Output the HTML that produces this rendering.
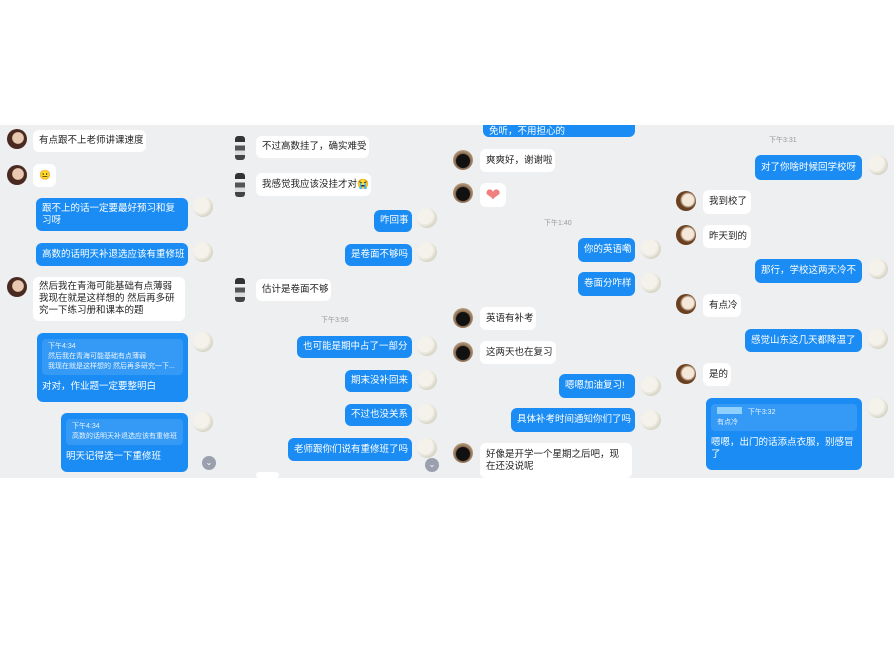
<!DOCTYPE html>
<html><head><meta charset="utf-8"><style>
body{margin:0;width:894px;height:670px;background:#fff;position:relative;overflow:hidden;font-family:"Liberation Sans","Noto Sans CJK SC",sans-serif;}
.band{position:absolute;left:0;top:125px;width:894px;height:353px;background:#eeeff1;}
.b{position:absolute;border-radius:6px;font-size:9.5px;line-height:12px;padding:0 6px;box-sizing:border-box;display:flex;align-items:center;white-space:nowrap;overflow:hidden}
.w{background:#fff;color:#222}
.u{background:#1a8cf4;color:#fff}
.av{position:absolute;width:20px;height:20px;border-radius:50%}
.f{background:radial-gradient(circle at 55% 45%,#e8c8b0 0 35%,#4a2a20 40%);}
.d{background:radial-gradient(circle at 50% 55%,#111 0 45%,#8a6a50 50%,#c8b090 80%);}
.c{background:radial-gradient(circle at 60% 45%,#f5e8d8 0 35%,#6a4020 50%);}
.me{background:radial-gradient(circle at 40% 40%,#f4f2ea 0 45%,#d6d4c4 70%,#eeeff1 90%);}
.fig{position:absolute;width:10px;height:24px;background:linear-gradient(#333 0 25%,#eee 25% 40%,#555 40% 60%,#ddd 60% 80%,#444 80%);border-radius:3px}
.ts{position:absolute;font-size:7px;color:#999}
.q{background:rgba(255,255,255,.12);border-radius:4px;font-size:7px;line-height:10px;padding:3px 6px;color:#e8f3ff;white-space:nowrap}
.chev{position:absolute;width:14px;height:14px;border-radius:50%;background:#9aa0ae;color:#fff;font-size:8px;text-align:center;line-height:14px}
</style></head><body>
<div class="band"></div>
<!-- col1 -->
<div class="av f" style="left:7px;top:129px"></div>
<div class="b w" style="left:33px;top:130px;width:113px;height:22px">有点跟不上老师讲课速度</div>
<div class="av f" style="left:7px;top:165px"></div>
<div class="b w" style="left:33px;top:164px;width:23px;height:23px">😐</div>
<div class="b u" style="left:36px;top:198px;width:152px;height:33px;white-space:normal">跟不上的话一定要最好预习和复习呀</div>
<div class="av me" style="left:193px;top:197px"></div>
<div class="b u" style="left:36px;top:243px;width:152px;height:23px">高数的话明天补退选应该有重修班</div>
<div class="av me" style="left:193px;top:242px"></div>
<div class="av f" style="left:7px;top:277px"></div>
<div class="b w" style="left:33px;top:277px;width:152px;height:44px;white-space:normal">然后我在青海可能基础有点薄弱我现在就是这样想的 然后再多研究一下练习册和课本的题</div>
<div class="b u" style="left:37px;top:333px;width:151px;height:69px;display:block;padding:6px 5px">
<div class="q">下午4:34<br>然后我在青海可能基础有点薄弱<br>我现在就是这样想的 然后再多研究一下...</div>
<div style="margin-top:6px">对对，作业题一定要整明白</div></div>
<div class="av me" style="left:193px;top:332px"></div>
<div class="b u" style="left:61px;top:413px;width:127px;height:59px;display:block;padding:6px 5px">
<div class="q">下午4:34<br>高数的话明天补退选应该有重修班</div>
<div style="margin-top:6px">明天记得选一下重修班</div></div>
<div class="av me" style="left:193px;top:412px"></div>
<div class="chev" style="left:202px;top:456px">⌄</div>
<!-- col2 -->
<div class="fig" style="left:235px;top:136px"></div>
<div class="b w" style="left:256px;top:136px;width:113px;height:22px">不过高数挂了，确实难受</div>
<div class="fig" style="left:235px;top:173px"></div>
<div class="b w" style="left:256px;top:173px;width:115px;height:23px">我感觉我应该没挂才对😭</div>
<div class="b u" style="left:374px;top:210px;width:38px;height:22px">咋回事</div>
<div class="av me" style="left:417px;top:208px"></div>
<div class="b u" style="left:345px;top:244px;width:67px;height:22px">是卷面不够吗</div>
<div class="av me" style="left:417px;top:242px"></div>
<div class="fig" style="left:235px;top:278px"></div>
<div class="b w" style="left:256px;top:279px;width:75px;height:22px">估计是卷面不够</div>
<div class="ts" style="left:321px;top:315px">下午3:56</div>
<div class="b u" style="left:297px;top:336px;width:115px;height:22px">也可能是期中占了一部分</div>
<div class="av me" style="left:417px;top:336px"></div>
<div class="b u" style="left:345px;top:370px;width:67px;height:22px">期末没补回来</div>
<div class="av me" style="left:417px;top:370px"></div>
<div class="b u" style="left:345px;top:404px;width:67px;height:22px">不过也没关系</div>
<div class="av me" style="left:417px;top:404px"></div>
<div class="b u" style="left:288px;top:438px;width:124px;height:23px">老师跟你们说有重修班了吗</div>
<div class="av me" style="left:417px;top:438px"></div>
<div class="chev" style="left:425px;top:458px">⌄</div>
<div class="b w" style="left:256px;top:472px;width:23px;height:6px"></div>
<!-- col3 -->
<div class="b u" style="left:483px;top:125px;width:152px;height:12px;border-radius:0 0 6px 6px;align-items:flex-end;line-height:10px">免听，不用担心的</div>
<div class="av d" style="left:453px;top:150px"></div>
<div class="b w" style="left:480px;top:149px;width:75px;height:23px">爽爽好，谢谢啦</div>
<div class="av d" style="left:453px;top:183px"></div>
<div class="b w" style="left:480px;top:183px;width:26px;height:24px;justify-content:center;color:#f08080;font-size:18px">❤</div>
<div class="ts" style="left:544px;top:218px">下午1:40</div>
<div class="b u" style="left:578px;top:238px;width:57px;height:24px">你的英语嘞</div>
<div class="av me" style="left:641px;top:239px"></div>
<div class="b u" style="left:578px;top:272px;width:57px;height:24px">卷面分咋样</div>
<div class="av me" style="left:641px;top:273px"></div>
<div class="av d" style="left:453px;top:308px"></div>
<div class="b w" style="left:480px;top:307px;width:56px;height:23px">英语有补考</div>
<div class="av d" style="left:453px;top:342px"></div>
<div class="b w" style="left:480px;top:341px;width:76px;height:23px">这两天也在复习</div>
<div class="b u" style="left:559px;top:374px;width:76px;height:24px">嗯嗯加油复习!</div>
<div class="av me" style="left:641px;top:376px"></div>
<div class="b u" style="left:511px;top:408px;width:124px;height:24px">具体补考时间通知你们了吗</div>
<div class="av me" style="left:641px;top:410px"></div>
<div class="av d" style="left:453px;top:443px"></div>
<div class="b w" style="left:480px;top:443px;width:152px;height:35px;white-space:normal">好像是开学一个星期之后吧，现在还没说呢</div>
<!-- col4 -->
<div class="ts" style="left:769px;top:135px">下午3:31</div>
<div class="b u" style="left:755px;top:155px;width:107px;height:25px">对了你啥时候回学校呀</div>
<div class="av me" style="left:868px;top:155px"></div>
<div class="av c" style="left:676px;top:191px"></div>
<div class="b w" style="left:703px;top:190px;width:48px;height:24px">我到校了</div>
<div class="av c" style="left:676px;top:225px"></div>
<div class="b w" style="left:703px;top:225px;width:48px;height:23px">昨天到的</div>
<div class="b u" style="left:755px;top:259px;width:107px;height:24px">那行，学校这两天冷不</div>
<div class="av me" style="left:868px;top:259px"></div>
<div class="av c" style="left:676px;top:294px"></div>
<div class="b w" style="left:703px;top:294px;width:38px;height:23px">有点冷</div>
<div class="b u" style="left:745px;top:329px;width:117px;height:23px">感觉山东这几天都降温了</div>
<div class="av me" style="left:868px;top:329px"></div>
<div class="av c" style="left:676px;top:364px"></div>
<div class="b w" style="left:703px;top:363px;width:28px;height:23px">是的</div>
<div class="b u" style="left:706px;top:398px;width:156px;height:72px;display:block;padding:6px 5px">
<div class="q"><span style="display:inline-block;width:25px;height:7px;background:#8fd0ff"></span> &nbsp; 下午3:32<br>有点冷</div>
<div style="margin-top:6px;white-space:normal;line-height:12px">嗯嗯，出门的话添点衣服，别感冒了</div></div>
<div class="av me" style="left:868px;top:398px"></div>
</body></html>
